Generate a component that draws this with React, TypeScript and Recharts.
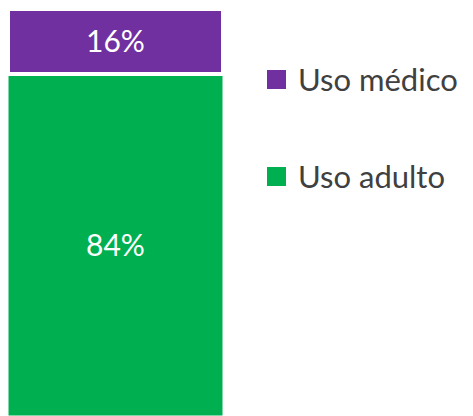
import { BarChart, Bar, XAxis, YAxis, LabelList } from "recharts";

const categories = ["Total"];
const adultoValues = [84];
const medicoValues = [16];
const seriesNames = { adulto: "Uso adulto", medico: "Uso médico" };
const seriesColors = { adulto: "#00B050", medico: "#7030A0" };
const legendOrder: ("medico" | "adulto")[] = ["medico", "adulto"];

const data = categories.map((c, i) => ({
  name: c,
  adulto: adultoValues[i],
  medico: medicoValues[i],
}));

export default function App() {
  return (
    <div style={{ position: "absolute", left: 0, top: 0, width: 473, height: 416, background: "#fff" }}>
      <BarChart
        width={473}
        height={416}
        data={data}
        margin={{ top: 9, right: 250, bottom: 0, left: 8 }}
        barCategoryGap={0}
      >
        <XAxis dataKey="name" hide />
        <YAxis hide domain={[0, 100]} />
        <Bar
          dataKey="adulto"
          name={seriesNames.adulto}
          stackId="a"
          fill={seriesColors.adulto}
          stroke="#fff"
          strokeWidth={1}
          isAnimationActive={false}
        >
          <LabelList
            dataKey="adulto"
            position="center"
            formatter={(v: any) => `${v}%`}
            fill="#fff"
            style={{ fontFamily: "Lato", fontSize: 30 }}
          />
        </Bar>
        <Bar
          dataKey="medico"
          name={seriesNames.medico}
          stackId="a"
          fill={seriesColors.medico}
          stroke="#fff"
          strokeWidth={4}
          isAnimationActive={false}
        >
          <LabelList
            dataKey="medico"
            position="center"
            formatter={(v: any) => `${v}%`}
            fill="#fff"
            style={{ fontFamily: "Lato", fontSize: 30 }}
          />
        </Bar>
      </BarChart>
      <div
        style={{
          position: "absolute",
          left: 267,
          top: 58,
          fontFamily: "Lato",
          color: "#404040",
        }}
      >
        {legendOrder.map((k, i) => (
          <div
            key={k}
            style={{
              display: "flex",
              alignItems: "center",
              height: 42,
              marginBottom: i === 0 ? 55 : 0,
            }}
          >
            <span
              style={{
                display: "inline-block",
                width: 19,
                height: 19,
                background: seriesColors[k],
                marginRight: 12,
              }}
            />
            <span style={{ fontSize: 31 }}>{seriesNames[k]}</span>
          </div>
        ))}
      </div>
    </div>
  );
}
